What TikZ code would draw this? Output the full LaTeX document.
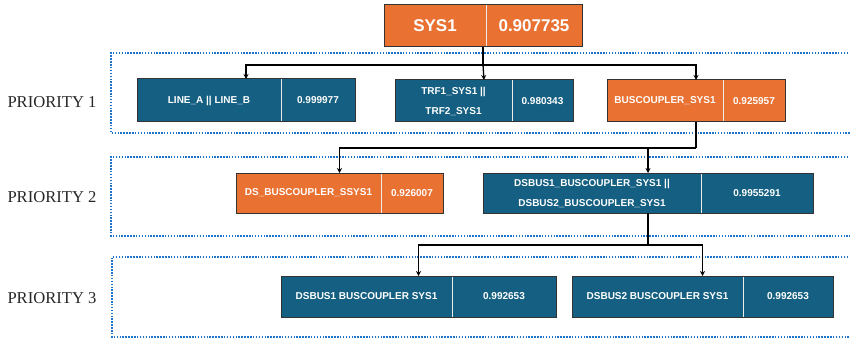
\documentclass[tikz,border=0pt]{standalone}
\usepackage{fontspec}
\setmainfont{Liberation Serif}
\newfontfamily\arialf{Liberation Sans}
\usetikzlibrary{fit,arrows.meta}
\definecolor{orng}{HTML}{E97132}
\definecolor{dblue}{HTML}{156082}
\definecolor{dotblue}{HTML}{1C74CC}
\definecolor{edge}{HTML}{333333}
\tikzset{
  cell/.style={inner sep=0pt, outer sep=0pt, text=white, align=center,
    font=\arialf\bfseries\fontsize{10}{20}\selectfont},
  bigcell/.style={font=\arialf\bfseries\fontsize{17}{20}\selectfont},
  divider/.style={draw=white!85!gray, line width=0.9pt},
  outline/.style={draw=edge, line width=1pt, inner sep=0pt, outer sep=0pt},
  conn/.style={draw=black, line width=1.3pt, -{Stealth[length=5pt,width=5pt]}},
  seg/.style={draw=black, line width=1.3pt},
  prio/.style={font=\fontsize{16.6}{18}\selectfont, text=black!85},
  band/.style={draw=dotblue, line width=1.7pt, dash pattern=on 1.5pt off 1.4pt}
}
\newcommand\prbox[9]{%
  \node[cell, fill=#6, minimum width=#3pt, minimum height=#5pt, anchor=north west, #9] (#1L) at (#2) {#7};
  \node[cell, fill=#6, minimum width=#4pt, minimum height=#5pt, anchor=north west, #9] (#1R) at (#1L.north east) {#8};
  \draw[divider] (#1L.north east) -- (#1L.south east);
  \node[outline, fit=(#1L)(#1R)] (#1) {};
}
\begin{document}
\begin{tikzpicture}[x=1pt,y=-1pt]
\clip (0,0) rectangle (850,339);
% priority bands
\draw[band] (880,53) -| (111,133) -- (880,133);
\draw[band] (880,157) -| (111,236) -- (880,236);
\draw[band] (880,257) -| (112,337) -- (880,337);
\node[prio] (p1) at (52,102) {PRIORITY 1};
\node[prio] (p2) at (52,197) {PRIORITY 2};
\node[prio] (p3) at (52,298) {PRIORITY 3};
% boxes
\prbox{sys}{384,5}{102}{96}{42}{orng}{SYS1}{0.907735}{bigcell}
\prbox{line}{137,79}{144}{74}{43}{dblue}{LINE\_A || LINE\_B}{0.999977}{}
\prbox{trf}{395,80}{117}{61}{42}{dblue}{TRF1\_SYS1 ||\\TRF2\_SYS1}{0.980343}{}
\prbox{bus}{607,80}{116}{62}{42}{orng}{BUSCOUPLER\_SYS1}{0.925957}{}
\prbox{ds}{236,173}{145}{62}{40}{orng}{DS\_BUSCOUPLER\_SSYS1}{0.926007}{}
\prbox{dsb}{483,173}{218}{112}{40}{dblue}{DSBUS1\_BUSCOUPLER\_SYS1 ||\\DSBUS2\_BUSCOUPLER\_SYS1}{0.9955291}{}
\prbox{dsa}{281,276}{171}{104}{41}{dblue}{DSBUS1 BUSCOUPLER SYS1}{0.992653}{}
\prbox{dsc}{572,276}{171}{90}{41}{dblue}{DSBUS2 BUSCOUPLER SYS1}{0.992653}{}
% junctions
\coordinate (j1) at (sys.south |- 0,65);
\coordinate (j2) at (bus.south |- 0,148);
\coordinate (j3) at (dsb.south |- 0,245);
% connectors
\draw[seg] (sys.south) -- (j1);
\draw[conn] (j1) -| (line.north);
\draw[conn] (j1) -- (trf.north);
\draw[conn] (j1) -| (bus.north);
\draw[seg] (bus.south) -- (j2);
\draw[conn] (j2) -| (ds.north);
\draw[conn] (j2) -| (dsb.north);
\draw[seg] (dsb.south) -- (j3);
\draw[conn] (j3) -| (dsa.north);
\draw[conn] (j3) -| (dsc.north);
\end{tikzpicture}
\end{document}
